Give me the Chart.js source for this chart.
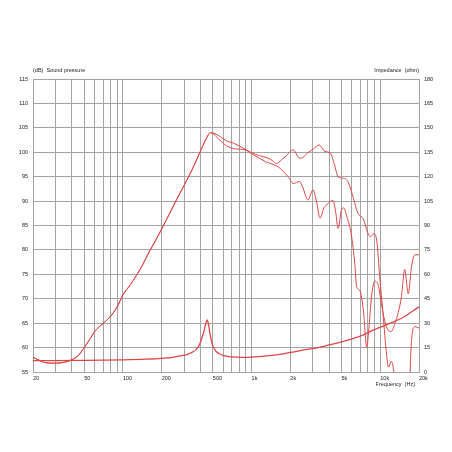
<!DOCTYPE html>
<html>
<head>
<meta charset="utf-8">
<script src="https://cdn.jsdelivr.net/npm/chart.js@4.4.1/dist/chart.umd.min.js"></script>
<style>
html, body { margin: 0; padding: 0; background: #fff; }
</style>
</head>
<body>
<canvas id="splChart" width="452" height="452"></canvas>
<script>
// frequency response + impedance of the driver
// low part is shared by both sound pressure curves
const sharedFreq = [20, 22, 25, 30, 35, 40, 45, 50, 55, 60, 65, 70, 80, 90, 100, 110, 120, 140, 160, 180, 200, 230, 260, 300, 350, 400, 440, 480];
const sharedDb   = [58.0, 57.5, 56.9, 56.8, 57.0, 57.5, 58.4, 60.0, 61.6, 63.2, 64.2, 64.9, 66.4, 68.3, 70.8, 72.3, 73.7, 76.6, 79.6, 82.0, 84.3, 87.4, 90.2, 93.3, 96.8, 100.2, 102.6, 104.0];

// upper curve (on axis)
const onAxisFreq = [520, 570, 640, 720, 840, 1000, 1150, 1340, 1450, 1565, 1700, 1850, 2100, 2360, 2500, 2700, 3000, 3350, 3700, 4100, 4400, 4700, 5100, 5600, 6200, 6700, 7400, 8000, 8400, 8900, 9400, 9900, 10500, 11200, 11600, 12200, 12700, 13500, 16500, 17500, 18600, 20000];
const onAxisDb   = [103.8, 103.2, 102.3, 101.9, 101.0, 99.9, 99.3, 98.8, 98.3, 97.7, 98.4, 99.2, 100.5, 98.8, 98.9, 99.8, 100.6, 101.5, 100.2, 99.8, 97.5, 95.0, 94.7, 94.0, 90.5, 87.5, 86.3, 83.5, 82.7, 83.3, 81.8, 74.5, 67.0, 58.5, 56.0, 57.2, 55.4, 48, 48, 61.5, 64.3, 64.0];

// lower curve (off axis)
const offAxisFreq = [570, 640, 750, 890, 1000, 1280, 1610, 1920, 2110, 2360, 2500, 2740, 3000, 3200, 3400, 3650, 3830, 4070, 4300, 4500, 4700, 5000, 5200, 5500, 5950, 6350, 6550, 6950, 7400, 7850, 8100, 8600, 9100, 9700, 10200, 10800, 11500, 12200, 13000, 13800, 14600, 15500, 16500, 17500, 18600, 20000];
const offAxisDb   = [102.4, 101.3, 100.7, 100.5, 99.7, 98.1, 97.0, 95.0, 93.6, 94.0, 92.8, 90.2, 92.3, 89.8, 86.5, 88.6, 89.2, 89.9, 90.1, 87.8, 84.4, 88.2, 88.6, 86.8, 83.2, 77.0, 72.5, 71.6, 67.5, 60.0, 63.0, 71.0, 73.6, 72.5, 69.0, 65.6, 63.6, 63.3, 65.0, 67.2, 70.4, 76.0, 71.0, 76.6, 79.0, 79.0];

// impedance (ohm), right axis
const impFreq = [20, 50, 100, 150, 200, 250, 300, 333, 386, 422, 440, 452, 463, 474, 495, 520, 560, 620, 700, 850, 1000, 1500, 2000, 2500, 3300, 4000, 5000, 7000, 9000, 10000, 12000, 15000, 20000];
const impOhm  = [7.0, 7.1, 7.5, 7.9, 8.4, 9.2, 10.3, 11.5, 15.5, 23.8, 29.5, 32.0, 29.0, 23.8, 17.0, 13.5, 11.2, 9.9, 9.3, 9.0, 9.2, 10.4, 12.0, 13.4, 15.0, 16.6, 18.5, 22.0, 26.0, 27.5, 30.0, 33.5, 40.0];

// axis ticks
const freqGrid = [20, 30, 40, 50, 60, 70, 80, 90, 100, 200, 300, 400, 500, 600, 700, 800, 900, 1000, 2000, 3000, 4000, 5000, 6000, 7000, 8000, 9000, 10000, 20000];
const freqLabeled = [20, 50, 100, 200, 500, 1000, 2000, 5000, 10000, 20000];
const freqLabelText = ['20', '50', '100', '200', '500', '1k', '2k', '5k', '10k', '20k'];

const toPoints = (xs, ys) => xs.map((f, i) => ({ x: f, y: ys[i] }));

const red = '#dc4646';
const gridCol = '#a3a3a3';

Chart.defaults.font.family = '"Liberation Sans", Arial, sans-serif';
Chart.defaults.font.size = 5.5;
Chart.defaults.color = '#222';

const axisText = {
    id: 'axisText',
    afterDraw(chart) {
        const c = chart.ctx;
        const a = chart.chartArea;
        c.save();
        c.font = '5.5px "Liberation Sans", Arial, sans-serif';
        c.fillStyle = '#222';
        c.textBaseline = 'middle';
        c.textAlign = 'left';
        c.fillText('(dB)  Sound pressure', a.left, a.top - 9);
        c.textAlign = 'right';
        c.fillText('Impedance  (ohm)', a.right, a.top - 9);
        c.fillText('Frequency  (Hz)', a.right - 4, a.bottom + 12);
        c.restore();
    }
};

const lineStyle = {
    borderColor: red,
    borderWidth: 1,
    pointRadius: 0,
    fill: false,
    cubicInterpolationMode: 'monotone'
};

new Chart(document.getElementById('splChart').getContext('2d'), {
    type: 'line',
    data: {
        datasets: [
            { ...lineStyle, label: 'SPL 0°', data: toPoints(sharedFreq.concat(onAxisFreq), sharedDb.concat(onAxisDb)), yAxisID: 'y' },
            { ...lineStyle, label: 'SPL off axis', data: toPoints(sharedFreq.concat(offAxisFreq), sharedDb.concat(offAxisDb)), yAxisID: 'y' },
            { ...lineStyle, label: 'Impedance', borderWidth: 1.3, data: toPoints(impFreq, impOhm), yAxisID: 'y1' }
        ]
    },
    options: {
        responsive: false,
        animation: false,
        devicePixelRatio: 1,
        layout: { padding: { top: 79, left: 0, right: 0, bottom: 0 } },
        plugins: {
            legend: { display: false },
            tooltip: { enabled: false }
        },
        scales: {
            x: {
                type: 'logarithmic',
                min: 20,
                max: 20000,
                afterBuildTicks: (s) => { s.ticks = freqGrid.map(v => ({ value: v })); },
                afterFit: (s) => { s.height = 80; },
                ticks: {
                    autoSkip: false,
                    maxRotation: 0,
                    align: 'start',
                    padding: 3,
                    callback: (v) => {
                        const i = freqLabeled.indexOf(v);
                        return i >= 0 ? freqLabelText[i] : '';
                    }
                },
                grid: { color: gridCol, drawTicks: false },
                border: { color: gridCol }
            },
            y: {
                position: 'left',
                min: 55,
                max: 115,
                afterFit: (s) => { s.width = 33; },
                ticks: { stepSize: 5, padding: 5 },
                grid: { color: gridCol, drawTicks: false },
                border: { color: gridCol }
            },
            y1: {
                position: 'right',
                min: 0,
                max: 180,
                afterFit: (s) => { s.width = 33; },
                ticks: { stepSize: 15, padding: 5 },
                grid: { drawOnChartArea: false, drawTicks: false },
                border: { color: gridCol }
            }
        }
    },
    plugins: [axisText]
});
</script>
</body>
</html>
